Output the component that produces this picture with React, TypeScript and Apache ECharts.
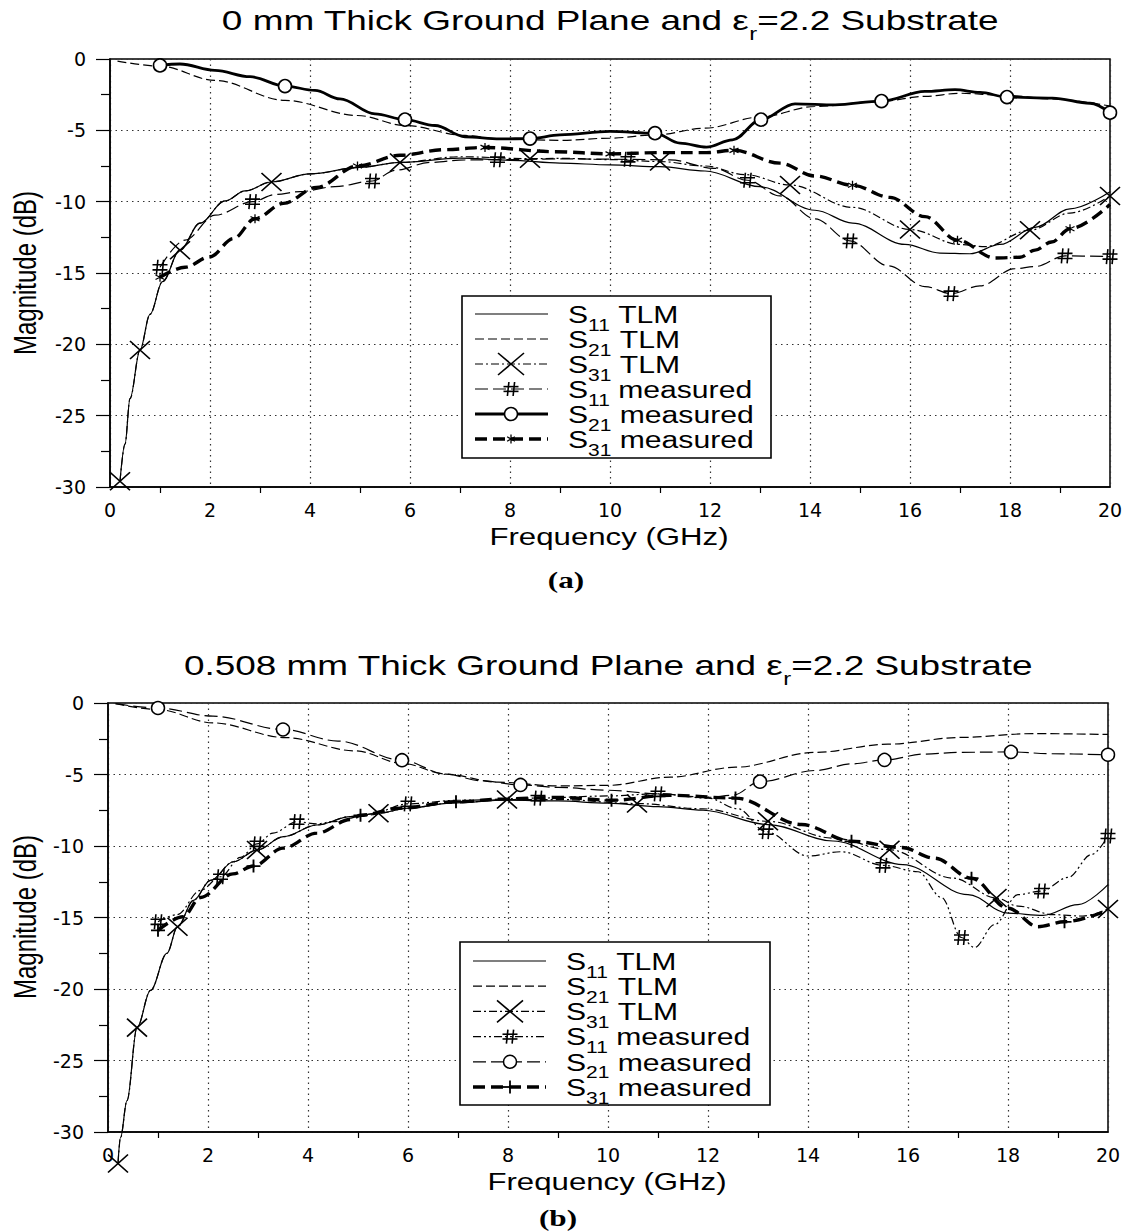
import React, { useEffect, useRef } from 'react';
import * as echarts from 'echarts';

type Pt = [number, number];

// ---------- axis ranges ----------
const FREQ_MIN = 0;
const FREQ_MAX = 20;
const FREQ_STEP = 2;
const MAG_MIN = -30;
const MAG_MAX = 0;
const MAG_STEP = 5;

// ---------- panel (a): 0 mm ground plane ----------
const A_S11_TLM: Pt[] = [[0.2,-29.6],[0.3,-27.0],[0.4,-23.8],[0.6,-20.4],[0.8,-17.9],[1.05,-15.6],[1.4,-13.4],[1.8,-11.5],[2.3,-9.95],[2.7,-9.25],[3.23,-8.62],[4.0,-8.05],[5.0,-7.6],[5.8,-7.25],[7.0,-6.95],[8.0,-7.1],[9.0,-7.3],[10.0,-7.42],[11.0,-7.55],[11.9,-7.85],[13.0,-8.95],[14.1,-10.6],[14.85,-11.5],[15.9,-13.0],[16.6,-13.6],[17.2,-13.65],[17.8,-13.0],[18.5,-11.8],[19.2,-10.5],[20.0,-9.3]];
const A_S21_TLM: Pt[] = [[0.15,-0.15],[1.0,-0.5],[2.1,-1.5],[3.5,-2.9],[4.95,-3.96],[5.9,-4.66],[7.1,-5.36],[7.8,-5.6],[9.0,-5.7],[10.0,-5.55],[10.9,-5.32],[11.9,-4.85],[13.0,-4.07],[14.1,-3.33],[15.4,-2.97],[16.3,-2.62],[17.0,-2.4],[17.9,-2.55],[18.85,-2.8],[20.0,-3.3]];
const A_S31_TLM: Pt[] = [[0.2,-29.6],[0.3,-27.0],[0.4,-23.8],[0.6,-20.4],[0.8,-17.9],[1.05,-15.6],[1.4,-13.4],[1.8,-11.5],[2.3,-9.95],[2.7,-9.25],[3.23,-8.62],[4.0,-8.05],[5.0,-7.6],[5.8,-7.25],[7.0,-6.85],[8.4,-6.99],[9.0,-6.96],[10.0,-7.05],[11.0,-7.19],[11.9,-7.5],[12.7,-8.1],[13.6,-8.83],[14.85,-10.4],[16.0,-11.95],[17.0,-13.0],[17.5,-13.15],[18.4,-12.0],[19.2,-10.8],[20.0,-9.6]];
const A_S31_TLM_MARKS = [0.2, 0.6, 1.4, 3.23, 5.8, 8.4, 11.0, 13.6, 16.0, 18.4, 20.0];
const A_S11_MEAS: Pt[] = [[1.0,-14.6],[1.5,-12.7],[2.1,-10.95],[2.85,-10.0],[3.3,-9.5],[3.8,-9.3],[4.5,-8.95],[5.25,-8.55],[5.7,-7.8],[6.4,-7.25],[7.1,-7.07],[7.75,-7.06],[9.0,-7.0],[10.36,-7.03],[11.2,-7.07],[12.08,-7.66],[12.75,-8.5],[13.4,-9.6],[14.1,-11.2],[14.8,-12.75],[15.57,-14.5],[16.3,-15.95],[16.82,-16.45],[17.4,-15.9],[18.1,-14.7],[18.5,-14.55],[19.1,-13.8],[20.0,-13.85]];
const A_S11_MEAS_MARKS = [1.0, 2.85, 5.25, 7.75, 10.36, 12.75, 14.8, 16.82, 19.1, 20.0];
const A_S21_MEAS: Pt[] = [[1.0,-0.45],[1.4,-0.35],[2.1,-0.8],[2.8,-1.24],[3.5,-1.9],[4.1,-2.2],[4.6,-2.8],[5.3,-3.85],[5.9,-4.25],[6.5,-4.66],[7.1,-5.45],[7.8,-5.6],[8.4,-5.58],[9.0,-5.32],[10.0,-5.08],[10.9,-5.2],[11.4,-5.9],[11.93,-6.18],[12.45,-5.67],[13.02,-4.25],[13.7,-3.14],[14.5,-3.21],[15.43,-2.95],[16.3,-2.27],[16.9,-2.15],[17.4,-2.34],[17.94,-2.67],[18.85,-2.74],[19.6,-3.1],[20.0,-3.76]];
const A_S21_MEAS_MARKS = [1.0, 3.5, 5.9, 8.4, 10.9, 13.02, 15.43, 17.94, 20.0];
const A_S31_MEAS: Pt[] = [[1.0,-15.3],[1.5,-14.6],[2.0,-13.86],[2.47,-12.58],[2.9,-11.2],[3.47,-10.12],[4.13,-9.0],[4.95,-7.5],[5.8,-6.75],[6.7,-6.35],[7.5,-6.2],[8.9,-6.5],[10.0,-6.65],[11.0,-6.56],[11.93,-6.56],[12.48,-6.4],[13.4,-7.3],[14.1,-8.2],[14.85,-8.85],[15.6,-9.7],[16.3,-11.05],[16.95,-12.7],[17.7,-13.95],[18.2,-13.9],[18.5,-13.4],[18.83,-12.83],[19.2,-11.9],[20.0,-10.2]];
const A_S31_MEAS_MARKS = [1.0, 2.9, 4.95, 7.5, 10.0, 12.48, 14.85, 16.95, 19.2];

// ---------- panel (b): 0.508 mm ground plane ----------
const B_S11_TLM: Pt[] = [[0.2,-32.2],[0.25,-30.4],[0.38,-27.8],[0.58,-22.7],[0.85,-20.1],[1.18,-17.5],[1.39,-15.65],[1.71,-13.8],[2.05,-12.4],[2.51,-11.1],[2.98,-10.28],[3.51,-9.35],[4.18,-8.53],[4.85,-7.94],[5.41,-7.71],[6.0,-7.36],[6.85,-7.0],[7.98,-6.8],[9.0,-6.85],[10.0,-7.0],[11.0,-7.25],[11.9,-7.5],[13.2,-8.5],[14.5,-9.65],[15.9,-11.3],[17.2,-13.4],[18.0,-14.7],[18.7,-14.85],[19.4,-14.1],[20.0,-12.7]];
const B_S21_TLM: Pt[] = [[0.15,-0.05],[1.0,-0.46],[2.1,-1.39],[3.55,-2.42],[4.95,-3.35],[5.9,-4.23],[6.75,-4.97],[7.8,-5.54],[9.0,-5.8],[10.0,-5.76],[11.25,-5.18],[12.55,-4.49],[14.15,-3.45],[15.6,-2.88],[17.05,-2.41],[18.5,-2.14],[20.0,-2.2]];
const B_S31_TLM: Pt[] = [[0.2,-32.2],[0.25,-30.4],[0.38,-27.8],[0.58,-22.7],[0.85,-20.1],[1.18,-17.5],[1.39,-15.65],[1.71,-13.8],[2.05,-12.4],[2.51,-11.1],[2.98,-10.28],[3.51,-9.35],[4.18,-8.53],[4.85,-7.94],[5.41,-7.71],[6.0,-7.36],[6.85,-7.0],[7.98,-6.75],[9.0,-6.75],[10.58,-7.03],[11.9,-7.4],[13.2,-8.27],[14.5,-9.45],[15.63,-10.26],[16.9,-12.25],[17.77,-13.64],[18.2,-14.2],[18.9,-14.8],[19.5,-14.9],[20.0,-14.4]];
const B_S31_TLM_MARKS = [0.2, 0.58, 1.39, 2.98, 5.41, 7.98, 10.58, 13.2, 15.63, 17.77, 20.0];
const B_S11_MEAS: Pt[] = [[1.0,-15.3],[1.38,-14.8],[1.85,-13.1],[2.25,-12.15],[2.65,-10.8],[2.98,-9.85],[3.3,-9.1],[3.78,-8.3],[4.18,-8.45],[4.5,-8.3],[5.18,-7.85],[6.0,-7.05],[7.0,-6.8],[8.6,-6.65],[10.0,-6.5],[11.0,-6.35],[12.0,-6.65],[12.6,-7.4],[13.16,-9.0],[14.0,-10.7],[14.67,-10.4],[15.5,-11.35],[16.2,-11.8],[16.67,-13.6],[17.07,-16.4],[17.33,-17.1],[17.73,-15.5],[18.2,-13.4],[18.67,-13.15],[19.2,-12.2],[19.67,-10.6],[20.0,-9.3]];
const B_S11_MEAS_MARKS = [1.0, 2.25, 2.98, 3.78, 6.0, 8.6, 11.0, 13.16, 15.5, 17.07, 18.67, 20.0];
const B_S21_MEAS: Pt[] = [[0.15,-0.05],[1.0,-0.35],[2.1,-0.92],[3.5,-1.85],[4.6,-2.66],[5.88,-4.0],[6.75,-4.97],[7.45,-5.43],[8.25,-5.73],[9.0,-5.9],[10.0,-6.1],[11.0,-6.35],[12.0,-6.6],[12.5,-6.45],[13.04,-5.5],[14.15,-4.72],[14.87,-4.26],[15.53,-3.98],[16.33,-3.57],[17.05,-3.45],[18.06,-3.42],[18.87,-3.55],[20.0,-3.62]];
const B_S21_MEAS_MARKS = [1.0, 3.5, 5.88, 8.25, 13.04, 15.53, 18.06, 20.0];
const B_S31_MEAS: Pt[] = [[1.0,-15.9],[1.5,-14.95],[1.85,-13.6],[2.5,-11.95],[2.91,-11.4],[3.5,-10.15],[4.18,-9.1],[4.85,-8.15],[5.05,-7.85],[5.85,-7.35],[6.96,-6.9],[8.0,-6.7],[9.0,-6.6],[10.07,-6.8],[11.24,-6.45],[12.55,-6.65],[13.87,-8.5],[14.87,-9.67],[15.87,-10.1],[16.53,-10.85],[17.27,-12.25],[18.0,-14.35],[18.6,-15.65],[19.13,-15.3],[20.0,-14.5]];
const B_S31_MEAS_MARKS = [1.0, 2.91, 5.05, 6.96, 10.07, 12.55, 14.87, 17.27, 19.13];

// ---------- texts ----------
const TITLE_A = '0 mm Thick Ground Plane and ';
const TITLE_B = '0.508 mm Thick Ground Plane and ';
const TITLE_TAIL = '=2.2 Substrate';
const X_NAME = 'Frequency (GHz)';
const Y_NAME = 'Magnitude (dB)';

// ---------- styles ----------
const SYMBOLS: Record<string, string> = {
  x: 'path://M0,0L10,10M10,0L0,10',
  hash: 'path://M3.6,0L2.6,10M7.4,0L6.4,10M0,3.3L10,3.3M0,6.7L10,6.7',
  star: 'path://M5,0L5,10M0.7,2.5L9.3,7.5M0.7,7.5L9.3,2.5',
  plus: 'path://M5,0L5,10M0,5L10,5',
  circle: 'circle',
};

interface St {
  width: number;
  dash: number[] | null;
  marker?: string;
  size?: number[];
  lsize?: number[];
  bw?: number;
}

interface Entry {
  sub: string;
  tail: string;
  pts: Pt[];
  marks: number[];
  st: St;
  clip?: boolean;
}

const PANEL_A: Entry[] = [
  { sub: '11', tail: 'TLM', pts: A_S11_TLM, marks: [], st: { width: 1.2, dash: null } },
  { sub: '21', tail: 'TLM', pts: A_S21_TLM, marks: [], st: { width: 1.2, dash: [9, 4] } },
  { sub: '31', tail: 'TLM', pts: A_S31_TLM, marks: A_S31_TLM_MARKS, st: { width: 1.2, dash: [8, 3, 2, 3], marker: 'x', size: [20, 18], lsize: [26, 22], bw: 1.6 } },
  { sub: '11', tail: 'measured', pts: A_S11_MEAS, marks: A_S11_MEAS_MARKS, st: { width: 1.2, dash: [13, 5], marker: 'hash', size: [15, 15], lsize: [15, 14], bw: 1.6 } },
  { sub: '21', tail: 'measured', pts: A_S21_MEAS, marks: A_S21_MEAS_MARKS, st: { width: 2.8, dash: null, marker: 'circle', size: [13, 13], lsize: [13, 13], bw: 1.6 } },
  { sub: '31', tail: 'measured', pts: A_S31_MEAS, marks: A_S31_MEAS_MARKS, st: { width: 3.4, dash: [12, 6], marker: 'star', size: [9, 9], lsize: [9, 9], bw: 1.3 } },
];

const PANEL_B: Entry[] = [
  { sub: '11', tail: 'TLM', pts: B_S11_TLM, marks: [], st: { width: 1.2, dash: null }, clip: false },
  { sub: '21', tail: 'TLM', pts: B_S21_TLM, marks: [], st: { width: 1.2, dash: [9, 4] } },
  { sub: '31', tail: 'TLM', pts: B_S31_TLM, marks: B_S31_TLM_MARKS, st: { width: 1.2, dash: [8, 3, 2, 3], marker: 'x', size: [20, 18], lsize: [26, 22], bw: 1.6 }, clip: false },
  { sub: '11', tail: 'measured', pts: B_S11_MEAS, marks: B_S11_MEAS_MARKS, st: { width: 1.2, dash: [8, 3, 2, 3, 2, 3], marker: 'hash', size: [15, 15], lsize: [15, 14], bw: 1.6 } },
  { sub: '21', tail: 'measured', pts: B_S21_MEAS, marks: B_S21_MEAS_MARKS, st: { width: 1.2, dash: [13, 5], marker: 'circle', size: [13, 13], lsize: [13, 13], bw: 1.5 } },
  { sub: '31', tail: 'measured', pts: B_S31_MEAS, marks: B_S31_MEAS_MARKS, st: { width: 3.4, dash: [12, 6], marker: 'plus', size: [14, 13], lsize: [15, 13], bw: 1.8 } },
];

const GRIDS = [
  { left: 110, top: 59, width: 1000, height: 428 },
  { left: 108, top: 703, width: 1000, height: 429 },
];

const LEGENDS = [
  { box: [462, 296, 309, 162], y0: 314, dy: 25, lx1: 475, lx2: 548, mx: 511, tx: 568 },
  { box: [460, 942, 310, 163], y0: 961, dy: 25.2, lx1: 473, lx2: 546, mx: 510, tx: 566 },
];

const FONT = 'Liberation Sans, Arial, sans-serif';
const STRETCH = 1.31;

function buildSeries(e: Entry, idx: number) {
  const data = e.pts.map((p) => (e.marks.indexOf(p[0]) >= 0 ? { value: p } : { value: p, symbol: 'none' }));
  return {
    type: 'line',
    name: 'S' + e.sub + ' ' + e.tail,
    xAxisIndex: idx,
    yAxisIndex: idx,
    data,
    smooth: 0.35,
    smoothMonotone: 'x',
    symbol: e.st.marker ? SYMBOLS[e.st.marker] : 'none',
    symbolSize: e.st.size || 10,
    showSymbol: true,
    clip: e.clip !== false,
    silent: true,
    lineStyle: { color: '#000', width: e.st.width, type: e.st.dash || 'solid' },
    itemStyle: {
      color: e.st.marker === 'circle' ? '#fff' : '#000',
      borderColor: '#000',
      borderWidth: e.st.bw || 1.5,
    },
    emphasis: { disabled: true },
    z: 3,
  };
}

function seg(x1: number, y1: number, x2: number, y2: number, lw: number, dash?: number[] | null) {
  return {
    type: 'line',
    z: 101,
    silent: true,
    shape: { x1, y1, x2, y2 },
    style: { stroke: '#000', lineWidth: lw, lineDash: dash || null },
  };
}

function markerEls(kind: string, cx: number, cy: number, w: number, h: number, lw: number): any[] {
  const hw = w / 2;
  const hh = h / 2;
  switch (kind) {
    case 'x':
      return [seg(cx - hw, cy - hh, cx + hw, cy + hh, lw), seg(cx + hw, cy - hh, cx - hw, cy + hh, lw)];
    case 'hash':
      return [
        seg(cx - 0.14 * w, cy - hh, cx - 0.24 * w, cy + hh, lw),
        seg(cx + 0.24 * w, cy - hh, cx + 0.14 * w, cy + hh, lw),
        seg(cx - hw, cy - 0.17 * h, cx + hw, cy - 0.17 * h, lw),
        seg(cx - hw, cy + 0.17 * h, cx + hw, cy + 0.17 * h, lw),
      ];
    case 'star':
      return [
        seg(cx, cy - hh, cx, cy + hh, lw),
        seg(cx - 0.43 * w, cy - 0.25 * h, cx + 0.43 * w, cy + 0.25 * h, lw),
        seg(cx - 0.43 * w, cy + 0.25 * h, cx + 0.43 * w, cy - 0.25 * h, lw),
      ];
    case 'plus':
      return [seg(cx, cy - hh, cx, cy + hh, lw), seg(cx - hw, cy, cx + hw, cy, lw)];
    case 'circle':
      return [{ type: 'ellipse', z: 102, silent: true, shape: { cx, cy, rx: hw, ry: hh }, style: { fill: '#fff', stroke: '#000', lineWidth: lw } }];
    default:
      return [];
  }
}

const LEG_LH = 36;

function legendEls(entries: Entry[], L: typeof LEGENDS[number]) {
  const els: any[] = [];
  const [bx, by, bw, bh] = L.box;
  els.push({ type: 'rect', z: 100, silent: true, shape: { x: bx, y: by, width: bw, height: bh }, style: { fill: '#fff', stroke: '#000', lineWidth: 1.6 } });
  entries.forEach((e, i) => {
    const y = L.y0 + L.dy * i;
    els.push(seg(L.lx1, y, L.lx2, y, e.st.width, e.st.dash));
    if (e.st.marker) {
      const s = e.st.lsize || [12, 12];
      els.push(...markerEls(e.st.marker, L.mx, y, s[0], s[1], e.st.bw || 1.5));
    }
    els.push({
      type: 'text',
      z: 103,
      silent: true,
      x: L.tx,
      y: y + 1 - LEG_LH / 2,
      scaleX: STRETCH,
      style: {
        text: '{m|S}{s|' + e.sub + '}{m|\u00A0' + e.tail + '}',
        textAlign: 'left',
        textVerticalAlign: 'top',
        fill: '#000',
        fontFamily: FONT,
        fontSize: 23,
        rich: {
          m: { fontSize: 23, fontFamily: FONT, lineHeight: LEG_LH, verticalAlign: 'middle', fill: '#000' },
          s: { fontSize: 16, fontFamily: FONT, verticalAlign: 'bottom', fill: '#000' },
        },
      },
    });
  });
  return els;
}

const TITLE_LH = 45;

function titleEl(head: string, cx: number, cy: number) {
  return {
    type: 'text',
    z: 103,
    silent: true,
    x: cx,
    y: cy - TITLE_LH / 2,
    scaleX: 1.32,
    style: {
      text: '{m|' + head + '\u03B5}{s|r}{m|' + TITLE_TAIL + '}',
      textAlign: 'center',
      textVerticalAlign: 'top',
      fill: '#000',
      fontFamily: FONT,
      fontSize: 28,
      rich: {
        m: { fontSize: 28, fontFamily: FONT, lineHeight: TITLE_LH, verticalAlign: 'middle', fill: '#000' },
        s: { fontSize: 18, fontFamily: FONT, verticalAlign: 'bottom', fill: '#000' },
      },
    },
  };
}

function plainText(text: string, x: number, y: number, opts: any) {
  return {
    type: 'text',
    z: 103,
    silent: true,
    x,
    y,
    rotation: opts.rotation || 0,
    scaleX: opts.scaleX || 1,
    scaleY: opts.scaleY || 1,
    style: {
      text,
      textAlign: 'center',
      textVerticalAlign: 'middle',
      fill: '#000',
      fontFamily: opts.fontFamily || FONT,
      fontSize: opts.fontSize || 24,
      fontWeight: opts.fontWeight || 'normal',
    },
  };
}

function xAxisCfg(i: number) {
  return {
    type: 'value',
    gridIndex: i,
    min: FREQ_MIN,
    max: FREQ_MAX,
    interval: FREQ_STEP,
    axisLine: { show: true, onZero: false, lineStyle: { color: '#000', width: 1.5 } },
    axisTick: { show: false },
    minorTick: { show: true, splitNumber: 2, length: 6, lineStyle: { color: '#000', width: 1.2 } },
    axisLabel: { color: '#000', fontFamily: 'DejaVu Sans', fontSize: 19, margin: 13 },
    splitLine: { show: true, lineStyle: { color: '#333', width: 1.2, type: [1.5, 4] } },
    minorSplitLine: { show: false },
  };
}

function yAxisCfg(i: number) {
  return {
    type: 'value',
    gridIndex: i,
    min: MAG_MIN,
    max: MAG_MAX,
    interval: MAG_STEP,
    axisLine: { show: true, onZero: false, lineStyle: { color: '#000', width: 1.5 } },
    axisTick: { show: true, length: 14, lineStyle: { color: '#000', width: 1.2 } },
    minorTick: { show: true, splitNumber: 2, length: 9, lineStyle: { color: '#000', width: 1.2 } },
    axisLabel: { color: '#000', fontFamily: 'DejaVu Sans', fontSize: 19, margin: 24 },
    splitLine: { show: true, lineStyle: { color: '#333', width: 1.2, type: [1.5, 4] } },
    minorSplitLine: { show: false },
  };
}

function buildOption() {
  const graphics: any[] = [
    titleEl(TITLE_A, 610, 20),
    titleEl(TITLE_B, 608, 665),
    plainText(X_NAME, 609, 537, { scaleX: 1.3 }),
    plainText(X_NAME, 607, 1182, { scaleX: 1.3 }),
    plainText(Y_NAME, 25, 273, { rotation: Math.PI / 2, scaleY: 1.3 }),
    plainText(Y_NAME, 25, 917, { rotation: Math.PI / 2, scaleY: 1.3 }),
    plainText('(a)', 566, 580, { scaleX: 1.3, fontFamily: 'Liberation Serif, serif', fontWeight: 'bold', fontSize: 24 }),
    plainText('(b)', 558, 1218, { scaleX: 1.3, fontFamily: 'Liberation Serif, serif', fontWeight: 'bold', fontSize: 24 }),
    ...legendEls(PANEL_A, LEGENDS[0]),
    ...legendEls(PANEL_B, LEGENDS[1]),
  ];
  return {
    animation: false,
    backgroundColor: '#fff',
    grid: GRIDS.map((g) => ({ ...g, show: true, borderColor: '#000', borderWidth: 1.5, backgroundColor: 'transparent' })),
    xAxis: [xAxisCfg(0), xAxisCfg(1)],
    yAxis: [yAxisCfg(0), yAxisCfg(1)],
    series: [...PANEL_A.map((e) => buildSeries(e, 0)), ...PANEL_B.map((e) => buildSeries(e, 1))],
    graphic: { elements: graphics },
  };
}

export default function App() {
  const ref = useRef<HTMLDivElement>(null);
  useEffect(() => {
    if (!ref.current) return;
    const chart = echarts.init(ref.current, null, { renderer: 'svg' });
    chart.setOption(buildOption() as any);
    return () => {
      chart.dispose();
    };
  }, []);
  return (
    <div
      ref={ref}
      style={{ position: 'absolute', left: 0, top: 0, width: 1132, height: 1232, background: '#fff' }}
    />
  );
}
